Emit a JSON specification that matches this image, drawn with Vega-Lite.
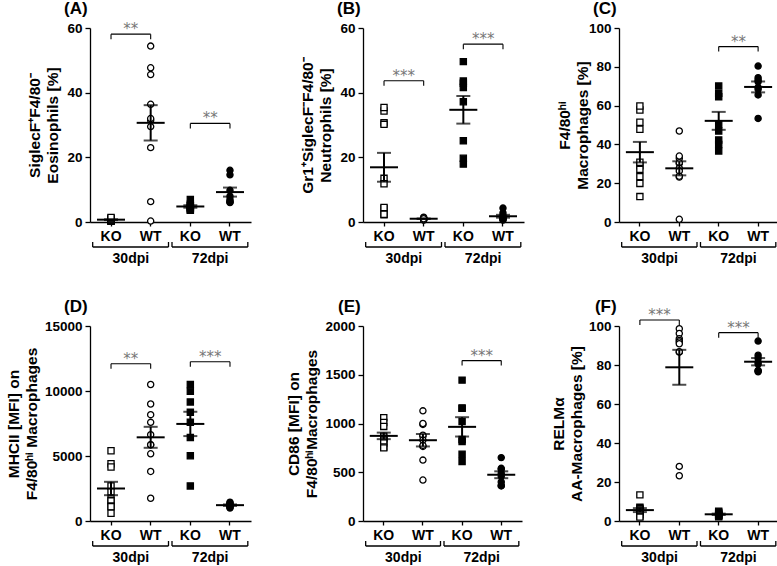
{
"$schema":"https://vega.github.io/schema/vega-lite/v6.json",
"padding":{"left":6,"top":0,"right":0,"bottom":0},
"background":"white",
"config":{"font":"Liberation Sans","view":{"stroke":null},
"axis":{"grid":false,"domainColor":"black","domainWidth":1.3,"tickColor":"black","tickWidth":1.3,"labelColor":"black","labelFontWeight":"bold","titleColor":"black","titleFontWeight":"bold","labelOverlap":false},
"axisX":{"labelFontSize":14,"tickSize":4,"labelPadding":3,"labelAngle":0},
"axisY":{"labelFontSize":13.5,"tickSize":5,"labelPadding":3,"titleFontSize":15.5,"titleLineHeight":18,"labelOverlap":false}},
"datasets":{
"lab":[{"p":"A","t":"(A)","g":"KO 30dpi"},{"p":"B","t":"(B)","g":"KO 30dpi"},{"p":"C","t":"(C)","g":"KO 30dpi"},{"p":"D","t":"(D)","g":"KO 30dpi"},{"p":"E","t":"(E)","g":"KO 30dpi"},{"p":"F","t":"(F)","g":"KO 30dpi"}],
"pts":[
{"p":"A","g":"KO 30dpi","v":0.2},{"p":"A","g":"KO 30dpi","v":0.3},{"p":"A","g":"KO 30dpi","v":0.4},{"p":"A","g":"KO 30dpi","v":0.5},{"p":"A","g":"KO 30dpi","v":0.6},{"p":"A","g":"KO 30dpi","v":0.7},{"p":"A","g":"KO 30dpi","v":0.9},{"p":"A","g":"KO 30dpi","v":1.0},{"p":"A","g":"KO 30dpi","v":1.2},{"p":"A","g":"KO 30dpi","v":1.4},
{"p":"A","g":"WT 30dpi","v":54.4},{"p":"A","g":"WT 30dpi","v":47.7},{"p":"A","g":"WT 30dpi","v":45.6},{"p":"A","g":"WT 30dpi","v":36.4},{"p":"A","g":"WT 30dpi","v":31.5},{"p":"A","g":"WT 30dpi","v":32.0},{"p":"A","g":"WT 30dpi","v":29.5},{"p":"A","g":"WT 30dpi","v":23.0},{"p":"A","g":"WT 30dpi","v":6.3},{"p":"A","g":"WT 30dpi","v":0.3},
{"p":"A","g":"KO 72dpi","v":7.0},{"p":"A","g":"KO 72dpi","v":5.5},{"p":"A","g":"KO 72dpi","v":5.0},{"p":"A","g":"KO 72dpi","v":4.8},{"p":"A","g":"KO 72dpi","v":4.5},{"p":"A","g":"KO 72dpi","v":4.2},{"p":"A","g":"KO 72dpi","v":3.8},{"p":"A","g":"KO 72dpi","v":3.6},
{"p":"A","g":"WT 72dpi","v":16.0},{"p":"A","g":"WT 72dpi","v":14.6},{"p":"A","g":"WT 72dpi","v":9.8},{"p":"A","g":"WT 72dpi","v":8.0},{"p":"A","g":"WT 72dpi","v":7.0},{"p":"A","g":"WT 72dpi","v":6.4},{"p":"A","g":"WT 72dpi","v":6.2},{"p":"A","g":"WT 72dpi","v":6.0},
{"p":"B","g":"KO 30dpi","v":34.3},{"p":"B","g":"KO 30dpi","v":35.4},{"p":"B","g":"KO 30dpi","v":30.7},{"p":"B","g":"KO 30dpi","v":30.2},{"p":"B","g":"KO 30dpi","v":13.5},{"p":"B","g":"KO 30dpi","v":11.8},{"p":"B","g":"KO 30dpi","v":4.2},{"p":"B","g":"KO 30dpi","v":4.5},{"p":"B","g":"KO 30dpi","v":2.2},{"p":"B","g":"KO 30dpi","v":2.4},
{"p":"B","g":"WT 30dpi","v":0.6},{"p":"B","g":"WT 30dpi","v":0.8},{"p":"B","g":"WT 30dpi","v":1.0},{"p":"B","g":"WT 30dpi","v":1.2},{"p":"B","g":"WT 30dpi","v":1.5},{"p":"B","g":"WT 30dpi","v":0.9},{"p":"B","g":"WT 30dpi","v":1.1},{"p":"B","g":"WT 30dpi","v":0.7},{"p":"B","g":"WT 30dpi","v":1.3},{"p":"B","g":"WT 30dpi","v":1.0},
{"p":"B","g":"KO 72dpi","v":49.6},{"p":"B","g":"KO 72dpi","v":42.9},{"p":"B","g":"KO 72dpi","v":41.6},{"p":"B","g":"KO 72dpi","v":43.6},{"p":"B","g":"KO 72dpi","v":37.2},{"p":"B","g":"KO 72dpi","v":25.1},{"p":"B","g":"KO 72dpi","v":17.9},{"p":"B","g":"KO 72dpi","v":19.7},
{"p":"B","g":"WT 72dpi","v":4.3},{"p":"B","g":"WT 72dpi","v":2.8},{"p":"B","g":"WT 72dpi","v":2.0},{"p":"B","g":"WT 72dpi","v":1.5},{"p":"B","g":"WT 72dpi","v":1.2},{"p":"B","g":"WT 72dpi","v":1.0},{"p":"B","g":"WT 72dpi","v":0.8},{"p":"B","g":"WT 72dpi","v":0.6},
{"p":"C","g":"KO 30dpi","v":57.7},{"p":"C","g":"KO 30dpi","v":59.8},{"p":"C","g":"KO 30dpi","v":51.4},{"p":"C","g":"KO 30dpi","v":47.8},{"p":"C","g":"KO 30dpi","v":29.0},{"p":"C","g":"KO 30dpi","v":30.8},{"p":"C","g":"KO 30dpi","v":27.1},{"p":"C","g":"KO 30dpi","v":23.4},{"p":"C","g":"KO 30dpi","v":19.9},{"p":"C","g":"KO 30dpi","v":13.1},
{"p":"C","g":"WT 30dpi","v":46.9},{"p":"C","g":"WT 30dpi","v":32.8},{"p":"C","g":"WT 30dpi","v":34.0},{"p":"C","g":"WT 30dpi","v":30.2},{"p":"C","g":"WT 30dpi","v":30.6},{"p":"C","g":"WT 30dpi","v":27.7},{"p":"C","g":"WT 30dpi","v":26.3},{"p":"C","g":"WT 30dpi","v":23.2},{"p":"C","g":"WT 30dpi","v":23.6},{"p":"C","g":"WT 30dpi","v":1.4},
{"p":"C","g":"KO 72dpi","v":70.1},{"p":"C","g":"KO 72dpi","v":66.3},{"p":"C","g":"KO 72dpi","v":64.6},{"p":"C","g":"KO 72dpi","v":50.3},{"p":"C","g":"KO 72dpi","v":46.9},{"p":"C","g":"KO 72dpi","v":42.3},{"p":"C","g":"KO 72dpi","v":40.0},{"p":"C","g":"KO 72dpi","v":36.6},
{"p":"C","g":"WT 72dpi","v":80.4},{"p":"C","g":"WT 72dpi","v":74.4},{"p":"C","g":"WT 72dpi","v":73.2},{"p":"C","g":"WT 72dpi","v":72.3},{"p":"C","g":"WT 72dpi","v":69.4},{"p":"C","g":"WT 72dpi","v":68.4},{"p":"C","g":"WT 72dpi","v":65.5},{"p":"C","g":"WT 72dpi","v":53.4},
{"p":"D","g":"KO 30dpi","v":5400},{"p":"D","g":"KO 30dpi","v":4400},{"p":"D","g":"KO 30dpi","v":4150},{"p":"D","g":"KO 30dpi","v":2700},{"p":"D","g":"KO 30dpi","v":2250},{"p":"D","g":"KO 30dpi","v":1700},{"p":"D","g":"KO 30dpi","v":1550},{"p":"D","g":"KO 30dpi","v":1150},{"p":"D","g":"KO 30dpi","v":1100},{"p":"D","g":"KO 30dpi","v":600},
{"p":"D","g":"WT 30dpi","v":10500},{"p":"D","g":"WT 30dpi","v":9000},{"p":"D","g":"WT 30dpi","v":8180},{"p":"D","g":"WT 30dpi","v":7590},{"p":"D","g":"WT 30dpi","v":6640},{"p":"D","g":"WT 30dpi","v":5870},{"p":"D","g":"WT 30dpi","v":5860},{"p":"D","g":"WT 30dpi","v":5170},{"p":"D","g":"WT 30dpi","v":3810},{"p":"D","g":"WT 30dpi","v":1750},
{"p":"D","g":"KO 72dpi","v":10500},{"p":"D","g":"KO 72dpi","v":9980},{"p":"D","g":"KO 72dpi","v":9160},{"p":"D","g":"KO 72dpi","v":8360},{"p":"D","g":"KO 72dpi","v":7590},{"p":"D","g":"KO 72dpi","v":6430},{"p":"D","g":"KO 72dpi","v":5020},{"p":"D","g":"KO 72dpi","v":2700},
{"p":"D","g":"WT 72dpi","v":1450},{"p":"D","g":"WT 72dpi","v":1400},{"p":"D","g":"WT 72dpi","v":1300},{"p":"D","g":"WT 72dpi","v":1250},{"p":"D","g":"WT 72dpi","v":1200},{"p":"D","g":"WT 72dpi","v":1100},{"p":"D","g":"WT 72dpi","v":1050},{"p":"D","g":"WT 72dpi","v":1000},
{"p":"E","g":"KO 30dpi","v":1060},{"p":"E","g":"KO 30dpi","v":1010},{"p":"E","g":"KO 30dpi","v":970},{"p":"E","g":"KO 30dpi","v":870},{"p":"E","g":"KO 30dpi","v":850},{"p":"E","g":"KO 30dpi","v":840},{"p":"E","g":"KO 30dpi","v":820},{"p":"E","g":"KO 30dpi","v":800},{"p":"E","g":"KO 30dpi","v":760},{"p":"E","g":"KO 30dpi","v":750},
{"p":"E","g":"WT 30dpi","v":1130},{"p":"E","g":"WT 30dpi","v":990},{"p":"E","g":"WT 30dpi","v":1000},{"p":"E","g":"WT 30dpi","v":870},{"p":"E","g":"WT 30dpi","v":880},{"p":"E","g":"WT 30dpi","v":830},{"p":"E","g":"WT 30dpi","v":765},{"p":"E","g":"WT 30dpi","v":775},{"p":"E","g":"WT 30dpi","v":625},{"p":"E","g":"WT 30dpi","v":420},
{"p":"E","g":"KO 72dpi","v":1445},{"p":"E","g":"KO 72dpi","v":1160},{"p":"E","g":"KO 72dpi","v":1155},{"p":"E","g":"KO 72dpi","v":1020},{"p":"E","g":"KO 72dpi","v":835},{"p":"E","g":"KO 72dpi","v":815},{"p":"E","g":"KO 72dpi","v":685},{"p":"E","g":"KO 72dpi","v":610},
{"p":"E","g":"WT 72dpi","v":650},{"p":"E","g":"WT 72dpi","v":540},{"p":"E","g":"WT 72dpi","v":530},{"p":"E","g":"WT 72dpi","v":490},{"p":"E","g":"WT 72dpi","v":460},{"p":"E","g":"WT 72dpi","v":400},{"p":"E","g":"WT 72dpi","v":365},{"p":"E","g":"WT 72dpi","v":360},
{"p":"F","g":"KO 30dpi","v":13.4},{"p":"F","g":"KO 30dpi","v":7.0},{"p":"F","g":"KO 30dpi","v":6.5},{"p":"F","g":"KO 30dpi","v":6.0},{"p":"F","g":"KO 30dpi","v":5.5},{"p":"F","g":"KO 30dpi","v":5.0},{"p":"F","g":"KO 30dpi","v":4.5},{"p":"F","g":"KO 30dpi","v":3.5},{"p":"F","g":"KO 30dpi","v":2.5},{"p":"F","g":"KO 30dpi","v":2.0},
{"p":"F","g":"WT 30dpi","v":98.6},{"p":"F","g":"WT 30dpi","v":96.2},{"p":"F","g":"WT 30dpi","v":93.5},{"p":"F","g":"WT 30dpi","v":92.6},{"p":"F","g":"WT 30dpi","v":91.8},{"p":"F","g":"WT 30dpi","v":90.9},{"p":"F","g":"WT 30dpi","v":86.6},{"p":"F","g":"WT 30dpi","v":86.8},{"p":"F","g":"WT 30dpi","v":28.0},{"p":"F","g":"WT 30dpi","v":23.2},
{"p":"F","g":"KO 72dpi","v":5.0},{"p":"F","g":"KO 72dpi","v":4.5},{"p":"F","g":"KO 72dpi","v":4.0},{"p":"F","g":"KO 72dpi","v":3.5},{"p":"F","g":"KO 72dpi","v":3.0},{"p":"F","g":"KO 72dpi","v":2.8},{"p":"F","g":"KO 72dpi","v":2.5},{"p":"F","g":"KO 72dpi","v":2.2},
{"p":"F","g":"WT 72dpi","v":92.3},{"p":"F","g":"WT 72dpi","v":85.0},{"p":"F","g":"WT 72dpi","v":83.5},{"p":"F","g":"WT 72dpi","v":81.5},{"p":"F","g":"WT 72dpi","v":80.5},{"p":"F","g":"WT 72dpi","v":77.0},{"p":"F","g":"WT 72dpi","v":77.2},{"p":"F","g":"WT 72dpi","v":76.5}
],
"sig":[
{"p":"A","from":"KO 30dpi","to":"WT 30dpi","lvl":58.1,"s":"**"},
{"p":"A","from":"KO 72dpi","to":"WT 72dpi","lvl":30.5,"s":"**"},
{"p":"B","from":"KO 30dpi","to":"WT 30dpi","lvl":43.7,"s":"***"},
{"p":"B","from":"KO 72dpi","to":"WT 72dpi","lvl":55,"s":"***"},
{"p":"C","from":"KO 72dpi","to":"WT 72dpi","lvl":90.4,"s":"**"},
{"p":"D","from":"KO 30dpi","to":"WT 30dpi","lvl":12100,"s":"**"},
{"p":"D","from":"KO 72dpi","to":"WT 72dpi","lvl":12250,"s":"***"},
{"p":"E","from":"KO 72dpi","to":"WT 72dpi","lvl":1645,"s":"***"},
{"p":"F","from":"KO 30dpi","to":"WT 30dpi","lvl":103.1,"s":"***"},
{"p":"F","from":"KO 72dpi","to":"WT 72dpi","lvl":96.6,"s":"***"}
],
"dpi":[{"from":"KO 30dpi","to":"WT 30dpi","d":"30dpi"},{"from":"KO 72dpi","to":"WT 72dpi","d":"72dpi"}]
},
"columns":3,
"spacing":{"row":104,"column":95},
"bounds":"flush",
"align":"none",
"concat":[
{"width":175,"height":194,
"layer":[
{"data":{"name":"pts"},"transform":[{"filter":"datum.p=='A'"}],"mark":{"type":"point","filled":true,"opacity":1,"stroke":"black","strokeWidth":1.3,"size":38},
"encoding":{"x":{"field":"g","type":"nominal","title":null,"scale":{"type":"band","domain":["KO 30dpi","WT 30dpi","KO 72dpi","WT 72dpi"],"range":[0,161],"paddingInner":0,"paddingOuter":0.03},"axis":{"labelExpr":"split(datum.label,' ')[0]"}},
"y":{"field":"v","type":"quantitative","scale":{"domain":[0,60],"nice":false},"axis":{"values":[0,20,40,60],"tickCount":8,"titlePadding":6,"labelOverlap":false},"title":["SiglecF⁺F4/80⁻","Eosinophils [%]"]},
"shape":{"field":"g","type":"nominal","scale":{"domain":["KO 30dpi","WT 30dpi","KO 72dpi","WT 72dpi"],"range":["square","circle","square","circle"]},"legend":null},
"fill":{"field":"g","type":"nominal","scale":{"domain":["KO 30dpi","WT 30dpi","KO 72dpi","WT 72dpi"],"range":["white","white","black","black"]},"legend":null}}},
{"data":{"name":"pts"},"transform":[{"filter":"datum.p=='A'"}],"mark":{"type":"errorbar","extent":"stderr","ticks":true,"size":14,"thickness":2,"color":"black"},
"encoding":{"x":{"field":"g","type":"nominal","title":null,"scale":{"type":"band","domain":["KO 30dpi","WT 30dpi","KO 72dpi","WT 72dpi"],"range":[0,161],"paddingInner":0,"paddingOuter":0.03}},"y":{"field":"v","type":"quantitative","scale":{"domain":[0,60],"nice":false},"axis":{"values":[0,20,40,60],"tickCount":8,"titlePadding":6,"labelOverlap":false},"title":["SiglecF⁺F4/80⁻","Eosinophils [%]"]}}},
{"data":{"name":"pts"},"transform":[{"filter":"datum.p=='A'"}],"mark":{"type":"tick","size":28,"thickness":2,"color":"black"},
"encoding":{"x":{"field":"g","type":"nominal","title":null,"scale":{"type":"band","domain":["KO 30dpi","WT 30dpi","KO 72dpi","WT 72dpi"],"range":[0,161],"paddingInner":0,"paddingOuter":0.03}},"y":{"aggregate":"mean","field":"v","type":"quantitative","scale":{"domain":[0,60],"nice":false},"axis":{"values":[0,20,40,60],"tickCount":8,"titlePadding":6,"labelOverlap":false},"title":["SiglecF⁺F4/80⁻","Eosinophils [%]"]}}},
{"data":{"name":"sig"},"transform":[{"filter":"datum.p=='A'"}],"mark":{"type":"rule","color":"black","strokeWidth":1.1},
"encoding":{"x":{"field":"from","type":"nominal","title":null,"scale":{"type":"band","domain":["KO 30dpi","WT 30dpi","KO 72dpi","WT 72dpi"],"range":[0,161],"paddingInner":0,"paddingOuter":0.03}},"x2":{"field":"to"},"y":{"field":"lvl","type":"quantitative","scale":{"domain":[0,60],"nice":false}}}},
{"data":{"name":"sig"},"transform":[{"filter":"datum.p=='A'"},{"fold":["from","to"],"as":["end","grp"]}],"mark":{"type":"rule","color":"black","strokeWidth":1.1,"y2Offset":5},
"encoding":{"x":{"field":"grp","type":"nominal","title":null,"scale":{"type":"band","domain":["KO 30dpi","WT 30dpi","KO 72dpi","WT 72dpi"],"range":[0,161],"paddingInner":0,"paddingOuter":0.03}},"y":{"field":"lvl","type":"quantitative","scale":{"domain":[0,60],"nice":false}},"y2":{"field":"lvl"}}},
{"data":{"name":"sig"},"transform":[{"filter":"datum.p=='A'"}],"mark":{"type":"text","font":"DejaVu Sans","fontSize":15,"color":"#777777","baseline":"alphabetic"},
"encoding":{"x":{"field":"from","type":"nominal","title":null,"bandPosition":1,"scale":{"type":"band","domain":["KO 30dpi","WT 30dpi","KO 72dpi","WT 72dpi"],"range":[0,161],"paddingInner":0,"paddingOuter":0.03}},"y":{"field":"lvl","type":"quantitative","scale":{"domain":[0,60],"nice":false}},"text":{"field":"s"}}},
{"data":{"name":"dpi"},"mark":{"type":"rule","color":"black","strokeWidth":1.3,"yOffset":25,"xOffset":1.5,"x2Offset":-2},
"encoding":{"x":{"field":"from","type":"nominal","title":null,"bandPosition":0,"scale":{"type":"band","domain":["KO 30dpi","WT 30dpi","KO 72dpi","WT 72dpi"],"range":[0,161],"paddingInner":0,"paddingOuter":0.03}},"x2":{"field":"to","bandPosition":1},"y":{"datum":0,"type":"quantitative","scale":{"domain":[0,60],"nice":false}}}},
{"data":{"name":"dpi"},"mark":{"type":"rule","color":"black","strokeWidth":1.3,"yOffset":20,"y2Offset":25,"xOffset":1.5},
"encoding":{"x":{"field":"from","type":"nominal","title":null,"bandPosition":0,"scale":{"type":"band","domain":["KO 30dpi","WT 30dpi","KO 72dpi","WT 72dpi"],"range":[0,161],"paddingInner":0,"paddingOuter":0.03}},"y":{"datum":0,"type":"quantitative","scale":{"domain":[0,60],"nice":false}},"y2":{"datum":0}}},
{"data":{"name":"dpi"},"mark":{"type":"rule","color":"black","strokeWidth":1.3,"yOffset":20,"y2Offset":25,"xOffset":-2},
"encoding":{"x":{"field":"to","type":"nominal","title":null,"bandPosition":1,"scale":{"type":"band","domain":["KO 30dpi","WT 30dpi","KO 72dpi","WT 72dpi"],"range":[0,161],"paddingInner":0,"paddingOuter":0.03}},"y":{"datum":0,"type":"quantitative","scale":{"domain":[0,60],"nice":false}},"y2":{"datum":0}}},
{"data":{"name":"dpi"},"mark":{"type":"text","fontSize":14,"fontWeight":"bold","baseline":"alphabetic","yOffset":41},
"encoding":{"x":{"field":"from","type":"nominal","title":null,"bandPosition":1,"scale":{"type":"band","domain":["KO 30dpi","WT 30dpi","KO 72dpi","WT 72dpi"],"range":[0,161],"paddingInner":0,"paddingOuter":0.03}},"y":{"datum":0,"type":"quantitative","scale":{"domain":[0,60],"nice":false}},"text":{"field":"d"}}},
{"data":{"name":"lab"},"transform":[{"filter":"datum.p=='A'"}],"mark":{"type":"text","fontSize":17,"fontWeight":"bold","align":"right","baseline":"alphabetic","dx":-3.5,"dy":-14},
"encoding":{"x":{"field":"g","type":"nominal","title":null,"bandPosition":0,"scale":{"type":"band","domain":["KO 30dpi","WT 30dpi","KO 72dpi","WT 72dpi"],"range":[0,161],"paddingInner":0,"paddingOuter":0.03}},"y":{"datum":60,"type":"quantitative","scale":{"domain":[0,60],"nice":false}},"text":{"field":"t"}}}
]},
{"width":161,"height":194,
"layer":[
{"data":{"name":"pts"},"transform":[{"filter":"datum.p=='B'"}],"mark":{"type":"point","filled":true,"opacity":1,"stroke":"black","strokeWidth":1.3,"size":38},
"encoding":{"x":{"field":"g","type":"nominal","title":null,"scale":{"type":"band","domain":["KO 30dpi","WT 30dpi","KO 72dpi","WT 72dpi"],"range":[0,161],"paddingInner":0,"paddingOuter":0.03},"axis":{"labelExpr":"split(datum.label,' ')[0]"}},
"y":{"field":"v","type":"quantitative","scale":{"domain":[0,60],"nice":false},"axis":{"values":[0,20,40,60],"tickCount":8,"titlePadding":6,"labelOverlap":false},"title":["Gr1⁺SiglecF⁻F4/80⁻","Neutrophils [%]"]},
"shape":{"field":"g","type":"nominal","scale":{"domain":["KO 30dpi","WT 30dpi","KO 72dpi","WT 72dpi"],"range":["square","circle","square","circle"]},"legend":null},
"fill":{"field":"g","type":"nominal","scale":{"domain":["KO 30dpi","WT 30dpi","KO 72dpi","WT 72dpi"],"range":["white","white","black","black"]},"legend":null}}},
{"data":{"name":"pts"},"transform":[{"filter":"datum.p=='B'"}],"mark":{"type":"errorbar","extent":"stderr","ticks":true,"size":14,"thickness":2,"color":"black"},
"encoding":{"x":{"field":"g","type":"nominal","title":null,"scale":{"type":"band","domain":["KO 30dpi","WT 30dpi","KO 72dpi","WT 72dpi"],"range":[0,161],"paddingInner":0,"paddingOuter":0.03}},"y":{"field":"v","type":"quantitative","scale":{"domain":[0,60],"nice":false},"axis":{"values":[0,20,40,60],"tickCount":8,"titlePadding":6,"labelOverlap":false},"title":["Gr1⁺SiglecF⁻F4/80⁻","Neutrophils [%]"]}}},
{"data":{"name":"pts"},"transform":[{"filter":"datum.p=='B'"}],"mark":{"type":"tick","size":28,"thickness":2,"color":"black"},
"encoding":{"x":{"field":"g","type":"nominal","title":null,"scale":{"type":"band","domain":["KO 30dpi","WT 30dpi","KO 72dpi","WT 72dpi"],"range":[0,161],"paddingInner":0,"paddingOuter":0.03}},"y":{"aggregate":"mean","field":"v","type":"quantitative","scale":{"domain":[0,60],"nice":false},"axis":{"values":[0,20,40,60],"tickCount":8,"titlePadding":6,"labelOverlap":false},"title":["Gr1⁺SiglecF⁻F4/80⁻","Neutrophils [%]"]}}},
{"data":{"name":"sig"},"transform":[{"filter":"datum.p=='B'"}],"mark":{"type":"rule","color":"black","strokeWidth":1.1},
"encoding":{"x":{"field":"from","type":"nominal","title":null,"scale":{"type":"band","domain":["KO 30dpi","WT 30dpi","KO 72dpi","WT 72dpi"],"range":[0,161],"paddingInner":0,"paddingOuter":0.03}},"x2":{"field":"to"},"y":{"field":"lvl","type":"quantitative","scale":{"domain":[0,60],"nice":false}}}},
{"data":{"name":"sig"},"transform":[{"filter":"datum.p=='B'"},{"fold":["from","to"],"as":["end","grp"]}],"mark":{"type":"rule","color":"black","strokeWidth":1.1,"y2Offset":5},
"encoding":{"x":{"field":"grp","type":"nominal","title":null,"scale":{"type":"band","domain":["KO 30dpi","WT 30dpi","KO 72dpi","WT 72dpi"],"range":[0,161],"paddingInner":0,"paddingOuter":0.03}},"y":{"field":"lvl","type":"quantitative","scale":{"domain":[0,60],"nice":false}},"y2":{"field":"lvl"}}},
{"data":{"name":"sig"},"transform":[{"filter":"datum.p=='B'"}],"mark":{"type":"text","font":"DejaVu Sans","fontSize":15,"color":"#777777","baseline":"alphabetic"},
"encoding":{"x":{"field":"from","type":"nominal","title":null,"bandPosition":1,"scale":{"type":"band","domain":["KO 30dpi","WT 30dpi","KO 72dpi","WT 72dpi"],"range":[0,161],"paddingInner":0,"paddingOuter":0.03}},"y":{"field":"lvl","type":"quantitative","scale":{"domain":[0,60],"nice":false}},"text":{"field":"s"}}},
{"data":{"name":"dpi"},"mark":{"type":"rule","color":"black","strokeWidth":1.3,"yOffset":25,"xOffset":1.5,"x2Offset":-2},
"encoding":{"x":{"field":"from","type":"nominal","title":null,"bandPosition":0,"scale":{"type":"band","domain":["KO 30dpi","WT 30dpi","KO 72dpi","WT 72dpi"],"range":[0,161],"paddingInner":0,"paddingOuter":0.03}},"x2":{"field":"to","bandPosition":1},"y":{"datum":0,"type":"quantitative","scale":{"domain":[0,60],"nice":false}}}},
{"data":{"name":"dpi"},"mark":{"type":"rule","color":"black","strokeWidth":1.3,"yOffset":20,"y2Offset":25,"xOffset":1.5},
"encoding":{"x":{"field":"from","type":"nominal","title":null,"bandPosition":0,"scale":{"type":"band","domain":["KO 30dpi","WT 30dpi","KO 72dpi","WT 72dpi"],"range":[0,161],"paddingInner":0,"paddingOuter":0.03}},"y":{"datum":0,"type":"quantitative","scale":{"domain":[0,60],"nice":false}},"y2":{"datum":0}}},
{"data":{"name":"dpi"},"mark":{"type":"rule","color":"black","strokeWidth":1.3,"yOffset":20,"y2Offset":25,"xOffset":-2},
"encoding":{"x":{"field":"to","type":"nominal","title":null,"bandPosition":1,"scale":{"type":"band","domain":["KO 30dpi","WT 30dpi","KO 72dpi","WT 72dpi"],"range":[0,161],"paddingInner":0,"paddingOuter":0.03}},"y":{"datum":0,"type":"quantitative","scale":{"domain":[0,60],"nice":false}},"y2":{"datum":0}}},
{"data":{"name":"dpi"},"mark":{"type":"text","fontSize":14,"fontWeight":"bold","baseline":"alphabetic","yOffset":41},
"encoding":{"x":{"field":"from","type":"nominal","title":null,"bandPosition":1,"scale":{"type":"band","domain":["KO 30dpi","WT 30dpi","KO 72dpi","WT 72dpi"],"range":[0,161],"paddingInner":0,"paddingOuter":0.03}},"y":{"datum":0,"type":"quantitative","scale":{"domain":[0,60],"nice":false}},"text":{"field":"d"}}},
{"data":{"name":"lab"},"transform":[{"filter":"datum.p=='B'"}],"mark":{"type":"text","fontSize":17,"fontWeight":"bold","align":"right","baseline":"alphabetic","dx":-3.5,"dy":-14},
"encoding":{"x":{"field":"g","type":"nominal","title":null,"bandPosition":0,"scale":{"type":"band","domain":["KO 30dpi","WT 30dpi","KO 72dpi","WT 72dpi"],"range":[0,161],"paddingInner":0,"paddingOuter":0.03}},"y":{"datum":60,"type":"quantitative","scale":{"domain":[0,60],"nice":false}},"text":{"field":"t"}}}
]},
{"width":160,"height":194,
"layer":[
{"data":{"name":"pts"},"transform":[{"filter":"datum.p=='C'"}],"mark":{"type":"point","filled":true,"opacity":1,"stroke":"black","strokeWidth":1.3,"size":38},
"encoding":{"x":{"field":"g","type":"nominal","title":null,"scale":{"type":"band","domain":["KO 30dpi","WT 30dpi","KO 72dpi","WT 72dpi"],"range":[0,160],"paddingInner":0,"paddingOuter":0.03},"axis":{"labelExpr":"split(datum.label,' ')[0]"}},
"y":{"field":"v","type":"quantitative","scale":{"domain":[0,100],"nice":false},"axis":{"values":[0,20,40,60,80,100],"tickCount":8,"titlePadding":-2,"labelOverlap":false},"title":["F4/80ʰⁱ","Macrophages [%]"]},
"shape":{"field":"g","type":"nominal","scale":{"domain":["KO 30dpi","WT 30dpi","KO 72dpi","WT 72dpi"],"range":["square","circle","square","circle"]},"legend":null},
"fill":{"field":"g","type":"nominal","scale":{"domain":["KO 30dpi","WT 30dpi","KO 72dpi","WT 72dpi"],"range":["white","white","black","black"]},"legend":null}}},
{"data":{"name":"pts"},"transform":[{"filter":"datum.p=='C'"}],"mark":{"type":"errorbar","extent":"stderr","ticks":true,"size":14,"thickness":2,"color":"black"},
"encoding":{"x":{"field":"g","type":"nominal","title":null,"scale":{"type":"band","domain":["KO 30dpi","WT 30dpi","KO 72dpi","WT 72dpi"],"range":[0,160],"paddingInner":0,"paddingOuter":0.03}},"y":{"field":"v","type":"quantitative","scale":{"domain":[0,100],"nice":false},"axis":{"values":[0,20,40,60,80,100],"tickCount":8,"titlePadding":-2,"labelOverlap":false},"title":["F4/80ʰⁱ","Macrophages [%]"]}}},
{"data":{"name":"pts"},"transform":[{"filter":"datum.p=='C'"}],"mark":{"type":"tick","size":28,"thickness":2,"color":"black"},
"encoding":{"x":{"field":"g","type":"nominal","title":null,"scale":{"type":"band","domain":["KO 30dpi","WT 30dpi","KO 72dpi","WT 72dpi"],"range":[0,160],"paddingInner":0,"paddingOuter":0.03}},"y":{"aggregate":"mean","field":"v","type":"quantitative","scale":{"domain":[0,100],"nice":false},"axis":{"values":[0,20,40,60,80,100],"tickCount":8,"titlePadding":-2,"labelOverlap":false},"title":["F4/80ʰⁱ","Macrophages [%]"]}}},
{"data":{"name":"sig"},"transform":[{"filter":"datum.p=='C'"}],"mark":{"type":"rule","color":"black","strokeWidth":1.1},
"encoding":{"x":{"field":"from","type":"nominal","title":null,"scale":{"type":"band","domain":["KO 30dpi","WT 30dpi","KO 72dpi","WT 72dpi"],"range":[0,160],"paddingInner":0,"paddingOuter":0.03}},"x2":{"field":"to"},"y":{"field":"lvl","type":"quantitative","scale":{"domain":[0,100],"nice":false}}}},
{"data":{"name":"sig"},"transform":[{"filter":"datum.p=='C'"},{"fold":["from","to"],"as":["end","grp"]}],"mark":{"type":"rule","color":"black","strokeWidth":1.1,"y2Offset":5},
"encoding":{"x":{"field":"grp","type":"nominal","title":null,"scale":{"type":"band","domain":["KO 30dpi","WT 30dpi","KO 72dpi","WT 72dpi"],"range":[0,160],"paddingInner":0,"paddingOuter":0.03}},"y":{"field":"lvl","type":"quantitative","scale":{"domain":[0,100],"nice":false}},"y2":{"field":"lvl"}}},
{"data":{"name":"sig"},"transform":[{"filter":"datum.p=='C'"}],"mark":{"type":"text","font":"DejaVu Sans","fontSize":15,"color":"#777777","baseline":"alphabetic"},
"encoding":{"x":{"field":"from","type":"nominal","title":null,"bandPosition":1,"scale":{"type":"band","domain":["KO 30dpi","WT 30dpi","KO 72dpi","WT 72dpi"],"range":[0,160],"paddingInner":0,"paddingOuter":0.03}},"y":{"field":"lvl","type":"quantitative","scale":{"domain":[0,100],"nice":false}},"text":{"field":"s"}}},
{"data":{"name":"dpi"},"mark":{"type":"rule","color":"black","strokeWidth":1.3,"yOffset":25,"xOffset":1.5,"x2Offset":-2},
"encoding":{"x":{"field":"from","type":"nominal","title":null,"bandPosition":0,"scale":{"type":"band","domain":["KO 30dpi","WT 30dpi","KO 72dpi","WT 72dpi"],"range":[0,160],"paddingInner":0,"paddingOuter":0.03}},"x2":{"field":"to","bandPosition":1},"y":{"datum":0,"type":"quantitative","scale":{"domain":[0,100],"nice":false}}}},
{"data":{"name":"dpi"},"mark":{"type":"rule","color":"black","strokeWidth":1.3,"yOffset":20,"y2Offset":25,"xOffset":1.5},
"encoding":{"x":{"field":"from","type":"nominal","title":null,"bandPosition":0,"scale":{"type":"band","domain":["KO 30dpi","WT 30dpi","KO 72dpi","WT 72dpi"],"range":[0,160],"paddingInner":0,"paddingOuter":0.03}},"y":{"datum":0,"type":"quantitative","scale":{"domain":[0,100],"nice":false}},"y2":{"datum":0}}},
{"data":{"name":"dpi"},"mark":{"type":"rule","color":"black","strokeWidth":1.3,"yOffset":20,"y2Offset":25,"xOffset":-2},
"encoding":{"x":{"field":"to","type":"nominal","title":null,"bandPosition":1,"scale":{"type":"band","domain":["KO 30dpi","WT 30dpi","KO 72dpi","WT 72dpi"],"range":[0,160],"paddingInner":0,"paddingOuter":0.03}},"y":{"datum":0,"type":"quantitative","scale":{"domain":[0,100],"nice":false}},"y2":{"datum":0}}},
{"data":{"name":"dpi"},"mark":{"type":"text","fontSize":14,"fontWeight":"bold","baseline":"alphabetic","yOffset":41},
"encoding":{"x":{"field":"from","type":"nominal","title":null,"bandPosition":1,"scale":{"type":"band","domain":["KO 30dpi","WT 30dpi","KO 72dpi","WT 72dpi"],"range":[0,160],"paddingInner":0,"paddingOuter":0.03}},"y":{"datum":0,"type":"quantitative","scale":{"domain":[0,100],"nice":false}},"text":{"field":"d"}}},
{"data":{"name":"lab"},"transform":[{"filter":"datum.p=='C'"}],"mark":{"type":"text","fontSize":17,"fontWeight":"bold","align":"right","baseline":"alphabetic","dx":-3.5,"dy":-14},
"encoding":{"x":{"field":"g","type":"nominal","title":null,"bandPosition":0,"scale":{"type":"band","domain":["KO 30dpi","WT 30dpi","KO 72dpi","WT 72dpi"],"range":[0,160],"paddingInner":0,"paddingOuter":0.03}},"y":{"datum":100,"type":"quantitative","scale":{"domain":[0,100],"nice":false}},"text":{"field":"t"}}}
]},
{"width":178,"height":195,
"layer":[
{"data":{"name":"pts"},"transform":[{"filter":"datum.p=='D'"}],"mark":{"type":"point","filled":true,"opacity":1,"stroke":"black","strokeWidth":1.3,"size":38},
"encoding":{"x":{"field":"g","type":"nominal","title":null,"scale":{"type":"band","domain":["KO 30dpi","WT 30dpi","KO 72dpi","WT 72dpi"],"range":[0,161],"paddingInner":0,"paddingOuter":0.03},"axis":{"labelExpr":"split(datum.label,' ')[0]"}},
"y":{"field":"v","type":"quantitative","scale":{"domain":[0,15000],"nice":false},"axis":{"values":[0,5000,10000,15000],"tickCount":8,"format":"d","titlePadding":5,"labelOverlap":false},"title":["MHCII [MFI] on","F4/80ʰⁱ Macrophages"]},
"shape":{"field":"g","type":"nominal","scale":{"domain":["KO 30dpi","WT 30dpi","KO 72dpi","WT 72dpi"],"range":["square","circle","square","circle"]},"legend":null},
"fill":{"field":"g","type":"nominal","scale":{"domain":["KO 30dpi","WT 30dpi","KO 72dpi","WT 72dpi"],"range":["white","white","black","black"]},"legend":null}}},
{"data":{"name":"pts"},"transform":[{"filter":"datum.p=='D'"}],"mark":{"type":"errorbar","extent":"stderr","ticks":true,"size":14,"thickness":2,"color":"black"},
"encoding":{"x":{"field":"g","type":"nominal","title":null,"scale":{"type":"band","domain":["KO 30dpi","WT 30dpi","KO 72dpi","WT 72dpi"],"range":[0,161],"paddingInner":0,"paddingOuter":0.03}},"y":{"field":"v","type":"quantitative","scale":{"domain":[0,15000],"nice":false},"axis":{"values":[0,5000,10000,15000],"tickCount":8,"format":"d","titlePadding":5,"labelOverlap":false},"title":["MHCII [MFI] on","F4/80ʰⁱ Macrophages"]}}},
{"data":{"name":"pts"},"transform":[{"filter":"datum.p=='D'"}],"mark":{"type":"tick","size":28,"thickness":2,"color":"black"},
"encoding":{"x":{"field":"g","type":"nominal","title":null,"scale":{"type":"band","domain":["KO 30dpi","WT 30dpi","KO 72dpi","WT 72dpi"],"range":[0,161],"paddingInner":0,"paddingOuter":0.03}},"y":{"aggregate":"mean","field":"v","type":"quantitative","scale":{"domain":[0,15000],"nice":false},"axis":{"values":[0,5000,10000,15000],"tickCount":8,"format":"d","titlePadding":5,"labelOverlap":false},"title":["MHCII [MFI] on","F4/80ʰⁱ Macrophages"]}}},
{"data":{"name":"sig"},"transform":[{"filter":"datum.p=='D'"}],"mark":{"type":"rule","color":"black","strokeWidth":1.1},
"encoding":{"x":{"field":"from","type":"nominal","title":null,"scale":{"type":"band","domain":["KO 30dpi","WT 30dpi","KO 72dpi","WT 72dpi"],"range":[0,161],"paddingInner":0,"paddingOuter":0.03}},"x2":{"field":"to"},"y":{"field":"lvl","type":"quantitative","scale":{"domain":[0,15000],"nice":false}}}},
{"data":{"name":"sig"},"transform":[{"filter":"datum.p=='D'"},{"fold":["from","to"],"as":["end","grp"]}],"mark":{"type":"rule","color":"black","strokeWidth":1.1,"y2Offset":5},
"encoding":{"x":{"field":"grp","type":"nominal","title":null,"scale":{"type":"band","domain":["KO 30dpi","WT 30dpi","KO 72dpi","WT 72dpi"],"range":[0,161],"paddingInner":0,"paddingOuter":0.03}},"y":{"field":"lvl","type":"quantitative","scale":{"domain":[0,15000],"nice":false}},"y2":{"field":"lvl"}}},
{"data":{"name":"sig"},"transform":[{"filter":"datum.p=='D'"}],"mark":{"type":"text","font":"DejaVu Sans","fontSize":15,"color":"#777777","baseline":"alphabetic"},
"encoding":{"x":{"field":"from","type":"nominal","title":null,"bandPosition":1,"scale":{"type":"band","domain":["KO 30dpi","WT 30dpi","KO 72dpi","WT 72dpi"],"range":[0,161],"paddingInner":0,"paddingOuter":0.03}},"y":{"field":"lvl","type":"quantitative","scale":{"domain":[0,15000],"nice":false}},"text":{"field":"s"}}},
{"data":{"name":"dpi"},"mark":{"type":"rule","color":"black","strokeWidth":1.3,"yOffset":25,"xOffset":1.5,"x2Offset":-2},
"encoding":{"x":{"field":"from","type":"nominal","title":null,"bandPosition":0,"scale":{"type":"band","domain":["KO 30dpi","WT 30dpi","KO 72dpi","WT 72dpi"],"range":[0,161],"paddingInner":0,"paddingOuter":0.03}},"x2":{"field":"to","bandPosition":1},"y":{"datum":0,"type":"quantitative","scale":{"domain":[0,15000],"nice":false}}}},
{"data":{"name":"dpi"},"mark":{"type":"rule","color":"black","strokeWidth":1.3,"yOffset":20,"y2Offset":25,"xOffset":1.5},
"encoding":{"x":{"field":"from","type":"nominal","title":null,"bandPosition":0,"scale":{"type":"band","domain":["KO 30dpi","WT 30dpi","KO 72dpi","WT 72dpi"],"range":[0,161],"paddingInner":0,"paddingOuter":0.03}},"y":{"datum":0,"type":"quantitative","scale":{"domain":[0,15000],"nice":false}},"y2":{"datum":0}}},
{"data":{"name":"dpi"},"mark":{"type":"rule","color":"black","strokeWidth":1.3,"yOffset":20,"y2Offset":25,"xOffset":-2},
"encoding":{"x":{"field":"to","type":"nominal","title":null,"bandPosition":1,"scale":{"type":"band","domain":["KO 30dpi","WT 30dpi","KO 72dpi","WT 72dpi"],"range":[0,161],"paddingInner":0,"paddingOuter":0.03}},"y":{"datum":0,"type":"quantitative","scale":{"domain":[0,15000],"nice":false}},"y2":{"datum":0}}},
{"data":{"name":"dpi"},"mark":{"type":"text","fontSize":14,"fontWeight":"bold","baseline":"alphabetic","yOffset":41},
"encoding":{"x":{"field":"from","type":"nominal","title":null,"bandPosition":1,"scale":{"type":"band","domain":["KO 30dpi","WT 30dpi","KO 72dpi","WT 72dpi"],"range":[0,161],"paddingInner":0,"paddingOuter":0.03}},"y":{"datum":0,"type":"quantitative","scale":{"domain":[0,15000],"nice":false}},"text":{"field":"d"}}},
{"data":{"name":"lab"},"transform":[{"filter":"datum.p=='D'"}],"mark":{"type":"text","fontSize":17,"fontWeight":"bold","align":"right","baseline":"alphabetic","dx":-3.5,"dy":-14},
"encoding":{"x":{"field":"g","type":"nominal","title":null,"bandPosition":0,"scale":{"type":"band","domain":["KO 30dpi","WT 30dpi","KO 72dpi","WT 72dpi"],"range":[0,161],"paddingInner":0,"paddingOuter":0.03}},"y":{"datum":15000,"type":"quantitative","scale":{"domain":[0,15000],"nice":false}},"text":{"field":"t"}}}
]},
{"width":158,"height":195,
"layer":[
{"data":{"name":"pts"},"transform":[{"filter":"datum.p=='E'"}],"mark":{"type":"point","filled":true,"opacity":1,"stroke":"black","strokeWidth":1.3,"size":38},
"encoding":{"x":{"field":"g","type":"nominal","title":null,"scale":{"type":"band","domain":["KO 30dpi","WT 30dpi","KO 72dpi","WT 72dpi"],"range":[0,159],"paddingInner":0,"paddingOuter":0.03},"axis":{"labelExpr":"split(datum.label,' ')[0]"}},
"y":{"field":"v","type":"quantitative","scale":{"domain":[0,2000],"nice":false},"axis":{"values":[0,500,1000,1500,2000],"tickCount":8,"format":"d","titlePadding":5,"labelOverlap":false},"title":["CD86 [MFI] on","F4/80ʰⁱMacrophages"]},
"shape":{"field":"g","type":"nominal","scale":{"domain":["KO 30dpi","WT 30dpi","KO 72dpi","WT 72dpi"],"range":["square","circle","square","circle"]},"legend":null},
"fill":{"field":"g","type":"nominal","scale":{"domain":["KO 30dpi","WT 30dpi","KO 72dpi","WT 72dpi"],"range":["white","white","black","black"]},"legend":null}}},
{"data":{"name":"pts"},"transform":[{"filter":"datum.p=='E'"}],"mark":{"type":"errorbar","extent":"stderr","ticks":true,"size":14,"thickness":2,"color":"black"},
"encoding":{"x":{"field":"g","type":"nominal","title":null,"scale":{"type":"band","domain":["KO 30dpi","WT 30dpi","KO 72dpi","WT 72dpi"],"range":[0,159],"paddingInner":0,"paddingOuter":0.03}},"y":{"field":"v","type":"quantitative","scale":{"domain":[0,2000],"nice":false},"axis":{"values":[0,500,1000,1500,2000],"tickCount":8,"format":"d","titlePadding":5,"labelOverlap":false},"title":["CD86 [MFI] on","F4/80ʰⁱMacrophages"]}}},
{"data":{"name":"pts"},"transform":[{"filter":"datum.p=='E'"}],"mark":{"type":"tick","size":28,"thickness":2,"color":"black"},
"encoding":{"x":{"field":"g","type":"nominal","title":null,"scale":{"type":"band","domain":["KO 30dpi","WT 30dpi","KO 72dpi","WT 72dpi"],"range":[0,159],"paddingInner":0,"paddingOuter":0.03}},"y":{"aggregate":"mean","field":"v","type":"quantitative","scale":{"domain":[0,2000],"nice":false},"axis":{"values":[0,500,1000,1500,2000],"tickCount":8,"format":"d","titlePadding":5,"labelOverlap":false},"title":["CD86 [MFI] on","F4/80ʰⁱMacrophages"]}}},
{"data":{"name":"sig"},"transform":[{"filter":"datum.p=='E'"}],"mark":{"type":"rule","color":"black","strokeWidth":1.1},
"encoding":{"x":{"field":"from","type":"nominal","title":null,"scale":{"type":"band","domain":["KO 30dpi","WT 30dpi","KO 72dpi","WT 72dpi"],"range":[0,159],"paddingInner":0,"paddingOuter":0.03}},"x2":{"field":"to"},"y":{"field":"lvl","type":"quantitative","scale":{"domain":[0,2000],"nice":false}}}},
{"data":{"name":"sig"},"transform":[{"filter":"datum.p=='E'"},{"fold":["from","to"],"as":["end","grp"]}],"mark":{"type":"rule","color":"black","strokeWidth":1.1,"y2Offset":5},
"encoding":{"x":{"field":"grp","type":"nominal","title":null,"scale":{"type":"band","domain":["KO 30dpi","WT 30dpi","KO 72dpi","WT 72dpi"],"range":[0,159],"paddingInner":0,"paddingOuter":0.03}},"y":{"field":"lvl","type":"quantitative","scale":{"domain":[0,2000],"nice":false}},"y2":{"field":"lvl"}}},
{"data":{"name":"sig"},"transform":[{"filter":"datum.p=='E'"}],"mark":{"type":"text","font":"DejaVu Sans","fontSize":15,"color":"#777777","baseline":"alphabetic"},
"encoding":{"x":{"field":"from","type":"nominal","title":null,"bandPosition":1,"scale":{"type":"band","domain":["KO 30dpi","WT 30dpi","KO 72dpi","WT 72dpi"],"range":[0,159],"paddingInner":0,"paddingOuter":0.03}},"y":{"field":"lvl","type":"quantitative","scale":{"domain":[0,2000],"nice":false}},"text":{"field":"s"}}},
{"data":{"name":"dpi"},"mark":{"type":"rule","color":"black","strokeWidth":1.3,"yOffset":25,"xOffset":1.5,"x2Offset":-2},
"encoding":{"x":{"field":"from","type":"nominal","title":null,"bandPosition":0,"scale":{"type":"band","domain":["KO 30dpi","WT 30dpi","KO 72dpi","WT 72dpi"],"range":[0,159],"paddingInner":0,"paddingOuter":0.03}},"x2":{"field":"to","bandPosition":1},"y":{"datum":0,"type":"quantitative","scale":{"domain":[0,2000],"nice":false}}}},
{"data":{"name":"dpi"},"mark":{"type":"rule","color":"black","strokeWidth":1.3,"yOffset":20,"y2Offset":25,"xOffset":1.5},
"encoding":{"x":{"field":"from","type":"nominal","title":null,"bandPosition":0,"scale":{"type":"band","domain":["KO 30dpi","WT 30dpi","KO 72dpi","WT 72dpi"],"range":[0,159],"paddingInner":0,"paddingOuter":0.03}},"y":{"datum":0,"type":"quantitative","scale":{"domain":[0,2000],"nice":false}},"y2":{"datum":0}}},
{"data":{"name":"dpi"},"mark":{"type":"rule","color":"black","strokeWidth":1.3,"yOffset":20,"y2Offset":25,"xOffset":-2},
"encoding":{"x":{"field":"to","type":"nominal","title":null,"bandPosition":1,"scale":{"type":"band","domain":["KO 30dpi","WT 30dpi","KO 72dpi","WT 72dpi"],"range":[0,159],"paddingInner":0,"paddingOuter":0.03}},"y":{"datum":0,"type":"quantitative","scale":{"domain":[0,2000],"nice":false}},"y2":{"datum":0}}},
{"data":{"name":"dpi"},"mark":{"type":"text","fontSize":14,"fontWeight":"bold","baseline":"alphabetic","yOffset":41},
"encoding":{"x":{"field":"from","type":"nominal","title":null,"bandPosition":1,"scale":{"type":"band","domain":["KO 30dpi","WT 30dpi","KO 72dpi","WT 72dpi"],"range":[0,159],"paddingInner":0,"paddingOuter":0.03}},"y":{"datum":0,"type":"quantitative","scale":{"domain":[0,2000],"nice":false}},"text":{"field":"d"}}},
{"data":{"name":"lab"},"transform":[{"filter":"datum.p=='E'"}],"mark":{"type":"text","fontSize":17,"fontWeight":"bold","align":"right","baseline":"alphabetic","dx":-3.5,"dy":-14},
"encoding":{"x":{"field":"g","type":"nominal","title":null,"bandPosition":0,"scale":{"type":"band","domain":["KO 30dpi","WT 30dpi","KO 72dpi","WT 72dpi"],"range":[0,159],"paddingInner":0,"paddingOuter":0.03}},"y":{"datum":2000,"type":"quantitative","scale":{"domain":[0,2000],"nice":false}},"text":{"field":"t"}}}
]},
{"width":160,"height":195,
"layer":[
{"data":{"name":"pts"},"transform":[{"filter":"datum.p=='F'"}],"mark":{"type":"point","filled":true,"opacity":1,"stroke":"black","strokeWidth":1.3,"size":38},
"encoding":{"x":{"field":"g","type":"nominal","title":null,"scale":{"type":"band","domain":["KO 30dpi","WT 30dpi","KO 72dpi","WT 72dpi"],"range":[0,160],"paddingInner":0,"paddingOuter":0.03},"axis":{"labelExpr":"split(datum.label,' ')[0]"}},
"y":{"field":"v","type":"quantitative","scale":{"domain":[0,100],"nice":false},"axis":{"values":[0,20,40,60,80,100],"tickCount":8,"titlePadding":4,"labelOverlap":false},"title":["RELMα","AA-Macrophages [%]"]},
"shape":{"field":"g","type":"nominal","scale":{"domain":["KO 30dpi","WT 30dpi","KO 72dpi","WT 72dpi"],"range":["square","circle","square","circle"]},"legend":null},
"fill":{"field":"g","type":"nominal","scale":{"domain":["KO 30dpi","WT 30dpi","KO 72dpi","WT 72dpi"],"range":["white","white","black","black"]},"legend":null}}},
{"data":{"name":"pts"},"transform":[{"filter":"datum.p=='F'"}],"mark":{"type":"errorbar","extent":"stderr","ticks":true,"size":14,"thickness":2,"color":"black"},
"encoding":{"x":{"field":"g","type":"nominal","title":null,"scale":{"type":"band","domain":["KO 30dpi","WT 30dpi","KO 72dpi","WT 72dpi"],"range":[0,160],"paddingInner":0,"paddingOuter":0.03}},"y":{"field":"v","type":"quantitative","scale":{"domain":[0,100],"nice":false},"axis":{"values":[0,20,40,60,80,100],"tickCount":8,"titlePadding":4,"labelOverlap":false},"title":["RELMα","AA-Macrophages [%]"]}}},
{"data":{"name":"pts"},"transform":[{"filter":"datum.p=='F'"}],"mark":{"type":"tick","size":28,"thickness":2,"color":"black"},
"encoding":{"x":{"field":"g","type":"nominal","title":null,"scale":{"type":"band","domain":["KO 30dpi","WT 30dpi","KO 72dpi","WT 72dpi"],"range":[0,160],"paddingInner":0,"paddingOuter":0.03}},"y":{"aggregate":"mean","field":"v","type":"quantitative","scale":{"domain":[0,100],"nice":false},"axis":{"values":[0,20,40,60,80,100],"tickCount":8,"titlePadding":4,"labelOverlap":false},"title":["RELMα","AA-Macrophages [%]"]}}},
{"data":{"name":"sig"},"transform":[{"filter":"datum.p=='F'"}],"mark":{"type":"rule","color":"black","strokeWidth":1.1},
"encoding":{"x":{"field":"from","type":"nominal","title":null,"scale":{"type":"band","domain":["KO 30dpi","WT 30dpi","KO 72dpi","WT 72dpi"],"range":[0,160],"paddingInner":0,"paddingOuter":0.03}},"x2":{"field":"to"},"y":{"field":"lvl","type":"quantitative","scale":{"domain":[0,100],"nice":false}}}},
{"data":{"name":"sig"},"transform":[{"filter":"datum.p=='F'"},{"fold":["from","to"],"as":["end","grp"]}],"mark":{"type":"rule","color":"black","strokeWidth":1.1,"y2Offset":5},
"encoding":{"x":{"field":"grp","type":"nominal","title":null,"scale":{"type":"band","domain":["KO 30dpi","WT 30dpi","KO 72dpi","WT 72dpi"],"range":[0,160],"paddingInner":0,"paddingOuter":0.03}},"y":{"field":"lvl","type":"quantitative","scale":{"domain":[0,100],"nice":false}},"y2":{"field":"lvl"}}},
{"data":{"name":"sig"},"transform":[{"filter":"datum.p=='F'"}],"mark":{"type":"text","font":"DejaVu Sans","fontSize":15,"color":"#777777","baseline":"alphabetic"},
"encoding":{"x":{"field":"from","type":"nominal","title":null,"bandPosition":1,"scale":{"type":"band","domain":["KO 30dpi","WT 30dpi","KO 72dpi","WT 72dpi"],"range":[0,160],"paddingInner":0,"paddingOuter":0.03}},"y":{"field":"lvl","type":"quantitative","scale":{"domain":[0,100],"nice":false}},"text":{"field":"s"}}},
{"data":{"name":"dpi"},"mark":{"type":"rule","color":"black","strokeWidth":1.3,"yOffset":25,"xOffset":1.5,"x2Offset":-2},
"encoding":{"x":{"field":"from","type":"nominal","title":null,"bandPosition":0,"scale":{"type":"band","domain":["KO 30dpi","WT 30dpi","KO 72dpi","WT 72dpi"],"range":[0,160],"paddingInner":0,"paddingOuter":0.03}},"x2":{"field":"to","bandPosition":1},"y":{"datum":0,"type":"quantitative","scale":{"domain":[0,100],"nice":false}}}},
{"data":{"name":"dpi"},"mark":{"type":"rule","color":"black","strokeWidth":1.3,"yOffset":20,"y2Offset":25,"xOffset":1.5},
"encoding":{"x":{"field":"from","type":"nominal","title":null,"bandPosition":0,"scale":{"type":"band","domain":["KO 30dpi","WT 30dpi","KO 72dpi","WT 72dpi"],"range":[0,160],"paddingInner":0,"paddingOuter":0.03}},"y":{"datum":0,"type":"quantitative","scale":{"domain":[0,100],"nice":false}},"y2":{"datum":0}}},
{"data":{"name":"dpi"},"mark":{"type":"rule","color":"black","strokeWidth":1.3,"yOffset":20,"y2Offset":25,"xOffset":-2},
"encoding":{"x":{"field":"to","type":"nominal","title":null,"bandPosition":1,"scale":{"type":"band","domain":["KO 30dpi","WT 30dpi","KO 72dpi","WT 72dpi"],"range":[0,160],"paddingInner":0,"paddingOuter":0.03}},"y":{"datum":0,"type":"quantitative","scale":{"domain":[0,100],"nice":false}},"y2":{"datum":0}}},
{"data":{"name":"dpi"},"mark":{"type":"text","fontSize":14,"fontWeight":"bold","baseline":"alphabetic","yOffset":41},
"encoding":{"x":{"field":"from","type":"nominal","title":null,"bandPosition":1,"scale":{"type":"band","domain":["KO 30dpi","WT 30dpi","KO 72dpi","WT 72dpi"],"range":[0,160],"paddingInner":0,"paddingOuter":0.03}},"y":{"datum":0,"type":"quantitative","scale":{"domain":[0,100],"nice":false}},"text":{"field":"d"}}},
{"data":{"name":"lab"},"transform":[{"filter":"datum.p=='F'"}],"mark":{"type":"text","fontSize":17,"fontWeight":"bold","align":"right","baseline":"alphabetic","dx":-3.5,"dy":-14},
"encoding":{"x":{"field":"g","type":"nominal","title":null,"bandPosition":0,"scale":{"type":"band","domain":["KO 30dpi","WT 30dpi","KO 72dpi","WT 72dpi"],"range":[0,160],"paddingInner":0,"paddingOuter":0.03}},"y":{"datum":100,"type":"quantitative","scale":{"domain":[0,100],"nice":false}},"text":{"field":"t"}}}
]}
]
}
